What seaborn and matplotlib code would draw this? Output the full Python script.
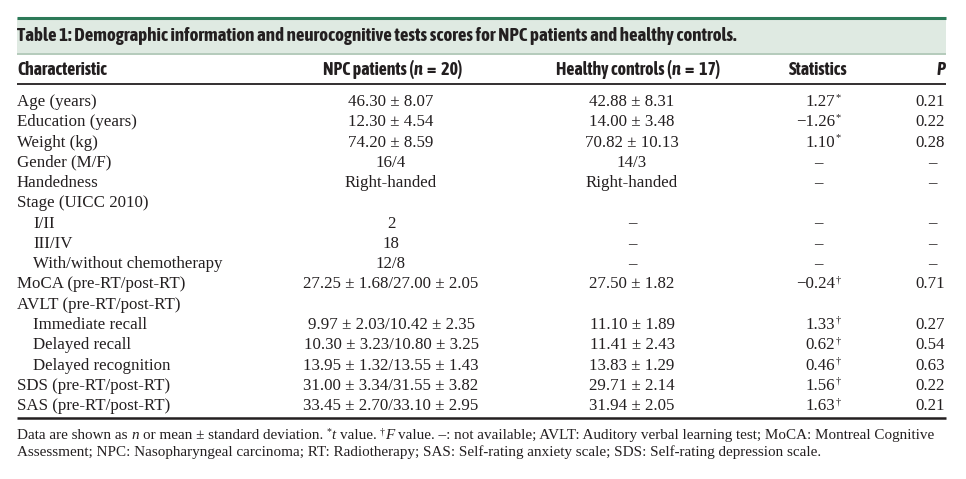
import numpy as np
import matplotlib
matplotlib.use("Agg")
import matplotlib.pyplot as plt
import matplotlib.patheffects as pe
import seaborn as sns
from matplotlib import font_manager
from matplotlib.patches import Rectangle

# ---- table content ----
title = "Table 1: Demographic information and neurocognitive tests scores for NPC patients and healthy controls."
characteristic = ["Age (years)", "Education (years)", "Weight (kg)", "Gender (M/F)", "Handedness",
                  "Stage (UICC 2010)", "I/II", "III/IV", "With/without chemotherapy",
                  "MoCA (pre-RT/post-RT)", "AVLT (pre-RT/post-RT)", "Immediate recall",
                  "Delayed recall", "Delayed recognition", "SDS (pre-RT/post-RT)", "SAS (pre-RT/post-RT)"]
indented = [0, 0, 0, 0, 0, 0, 1, 1, 1, 0, 0, 1, 1, 1, 0, 0]
npc = ["46.30 ± 8.07", "12.30 ± 4.54", "74.20 ± 8.59", "16/4", "Right-handed", "", "2", "18", "12/8",
       "27.25 ± 1.68/27.00 ± 2.05", "", "9.97 ± 2.03/10.42 ± 2.35", "10.30 ± 3.23/10.80 ± 3.25",
       "13.95 ± 1.32/13.55 ± 1.43", "31.00 ± 3.34/31.55 ± 3.82", "33.45 ± 2.70/33.10 ± 2.95"]
controls = ["42.88 ± 8.31", "14.00 ± 3.48", "70.82 ± 10.13", "14/3", "Right-handed", "", "–", "–", "–",
            "27.50 ± 1.82", "", "11.10 ± 1.89", "11.41 ± 2.43", "13.83 ± 1.29", "29.71 ± 2.14", "31.94 ± 2.05"]
stat = ["1.27", "−1.26", "1.10", "–", "–", "", "–", "–", "–", "−0.24", "", "1.33", "0.62", "0.46", "1.56", "1.63"]
stat_mark = ["*", "*", "*", "", "", "", "", "", "", "†", "", "†", "†", "†", "†", "†"]
pval = ["0.21", "0.22", "0.28", "–", "–", "", "–", "–", "–", "0.71", "", "0.27", "0.54", "0.63", "0.22", "0.21"]

sns.set_theme(style="white")
ink = "#231f20"
serif = "Liberation Serif"
plt.rcParams["font.family"] = [serif, "DejaVu Sans"]

# condensed sans for the headings; fake the bold with a thin stroke if no bold face exists
fonts = font_manager.fontManager.ttflist


def is_bold(f):
    w = f.weight
    if isinstance(w, str):
        return w.lower() in ("bold", "heavy", "black", "extra bold", "semibold", "demibold")
    return w >= 600


def rank(name):
    # plain "Condensed"/"Narrow" first, then semi, then extra/ultra
    if "Extra" in name or "Ultra" in name:
        return 2
    if "Semi" in name:
        return 1
    return 0


narrow = sorted({f.name for f in fonts if "Narrow" in f.name or "Condensed" in f.name},
                key=lambda n: (rank(n), n))
bold_narrow = [n for n in narrow if any(f.name == n and is_bold(f) for f in fonts)]
stroke = []
if bold_narrow:
    hb = dict(family=bold_narrow[0], weight="bold")
elif narrow:
    hb = dict(family=narrow[0])
    stroke = [pe.withStroke(linewidth=0.75, foreground=ink)]
else:
    hb = dict(family="Liberation Sans", weight="bold")

fig = plt.figure(figsize=(9.66, 4.79), dpi=100)
ax = fig.add_axes([0, 0, 1, 1])
ax.set_xlim(0, 966)
ax.set_ylim(479, 0)
ax.axis("off")
renderer = fig.canvas.get_renderer()


def width(s, **kw):
    t = ax.text(0, 0, s, **kw)
    w = t.get_window_extent(renderer).width
    t.remove()
    return w


def fit(s, target, **kw):
    return 10 * target / width(s, fontsize=10, **kw)


def rich(x, y, parts, ha="left"):
    # parts: (text, kwargs, rise)
    items = []
    total = 0
    for s, kw, rise in parts:
        sp = width("a a", **kw) - width("aa", **kw)
        lead = len(s) - len(s.lstrip(" "))
        trail = len(s) - len(s.rstrip(" "))
        core = s.strip(" ")
        w = width(core, **kw) if core else 0
        items.append((core, kw, rise, lead * sp, w, trail * sp))
        total += lead * sp + w + trail * sp
    x0 = x - total / 2 if ha == "center" else x
    for core, kw, rise, lw, w, tw in items:
        x0 += lw
        if core:
            ax.text(x0, y - rise, core, ha="left", va="baseline", color=ink, **kw)
        x0 += w + tw


# ---- title bar ----
left, right = 17, 946
ax.add_patch(Rectangle((left, 18), right - left, 36, fc="#dfeae2", ec="none"))
ax.plot([left, right], [18, 18], color="#2c7a58", lw=2.2, solid_capstyle="butt")
ax.plot([left, right], [54, 54], color="#b4cbbb", lw=1.4, solid_capstyle="butt")
tsize = fit(title, 710, **hb)
ax.text(left, 41, title, ha="left", va="baseline", fontsize=tsize, color=ink,
        path_effects=stroke, **hb)

# ---- header ----
hsize = fit("Characteristic", 90, **hb)
hkw = dict(fontsize=hsize, path_effects=stroke, **hb)
hkw_i = dict(hkw, style="italic")
ax.text(left, 75, "Characteristic", ha="left", va="baseline", color=ink, **hkw)
rich(393, 75, [("NPC patients (", hkw, 0), ("n", hkw_i, 0), ("  =  20)", hkw, 0)], ha="center")
rich(638, 75, [("Healthy controls (", hkw, 0), ("n", hkw_i, 0), ("  =  17)", hkw, 0)], ha="center")
ax.text(818, 75, "Statistics", ha="center", va="baseline", color=ink, **hkw)
ax.text(945, 75, "P", ha="right", va="baseline", color=ink, **hkw_i)
ax.plot([left, right], [84, 84], color=ink, lw=1.3, solid_capstyle="butt")

# ---- body ----
bsize = 12.2
rows = 101 + 20.27 * np.arange(len(characteristic))
for i, y in enumerate(rows):
    b = y + 5
    ax.text(33 if indented[i] else left, b, characteristic[i], ha="left", va="baseline",
            fontsize=bsize, color=ink)
    ax.text(391, b, npc[i], ha="center", va="baseline", fontsize=bsize, color=ink)
    ax.text(632, b, controls[i], ha="center", va="baseline", fontsize=bsize, color=ink)
    if stat[i] == "–":
        ax.text(818, b, stat[i], ha="center", va="baseline", fontsize=bsize, color=ink)
    elif stat[i]:
        ax.text(835, b, stat[i], ha="right", va="baseline", fontsize=bsize, color=ink)
        ax.text(836, b - 6, stat_mark[i], ha="left", va="baseline", fontsize=7.5, color=ink)
    if pval[i] == "–":
        ax.text(932, b, pval[i], ha="center", va="baseline", fontsize=bsize, color=ink)
    elif pval[i]:
        ax.text(945, b, pval[i], ha="right", va="baseline", fontsize=bsize, color=ink)
ax.plot([left, right], [418, 418], color=ink, lw=1.8, solid_capstyle="butt")

# ---- footnote ----
line1 = ["Data are shown as ", "n", " or mean ± standard deviation. ", "*", "t", " value. ", "†", "F",
         " value. –: not available; AVLT: Auditory verbal learning test; MoCA: Montreal Cognitive"]
line2 = "Assessment; NPC: Nasopharyngeal carcinoma; RT: Radiotherapy; SAS: Self-rating anxiety scale; SDS: Self-rating depression scale."
fsize = fit("".join(line1), 926)
fk = dict(fontsize=fsize)
fi = dict(fontsize=fsize, style="italic")
fs = dict(fontsize=fsize * 0.65)
rich(left, 439, [(line1[0], fk, 0), (line1[1], fi, 0), (line1[2], fk, 0), (line1[3], fs, 5),
                 (line1[4], fi, 0), (line1[5], fk, 0), (line1[6], fs, 5), (line1[7], fi, 0),
                 (line1[8], fk, 0)])
ax.text(left, 456, line2, ha="left", va="baseline", color=ink, **fk)

fig.savefig("out.png", dpi=100)
